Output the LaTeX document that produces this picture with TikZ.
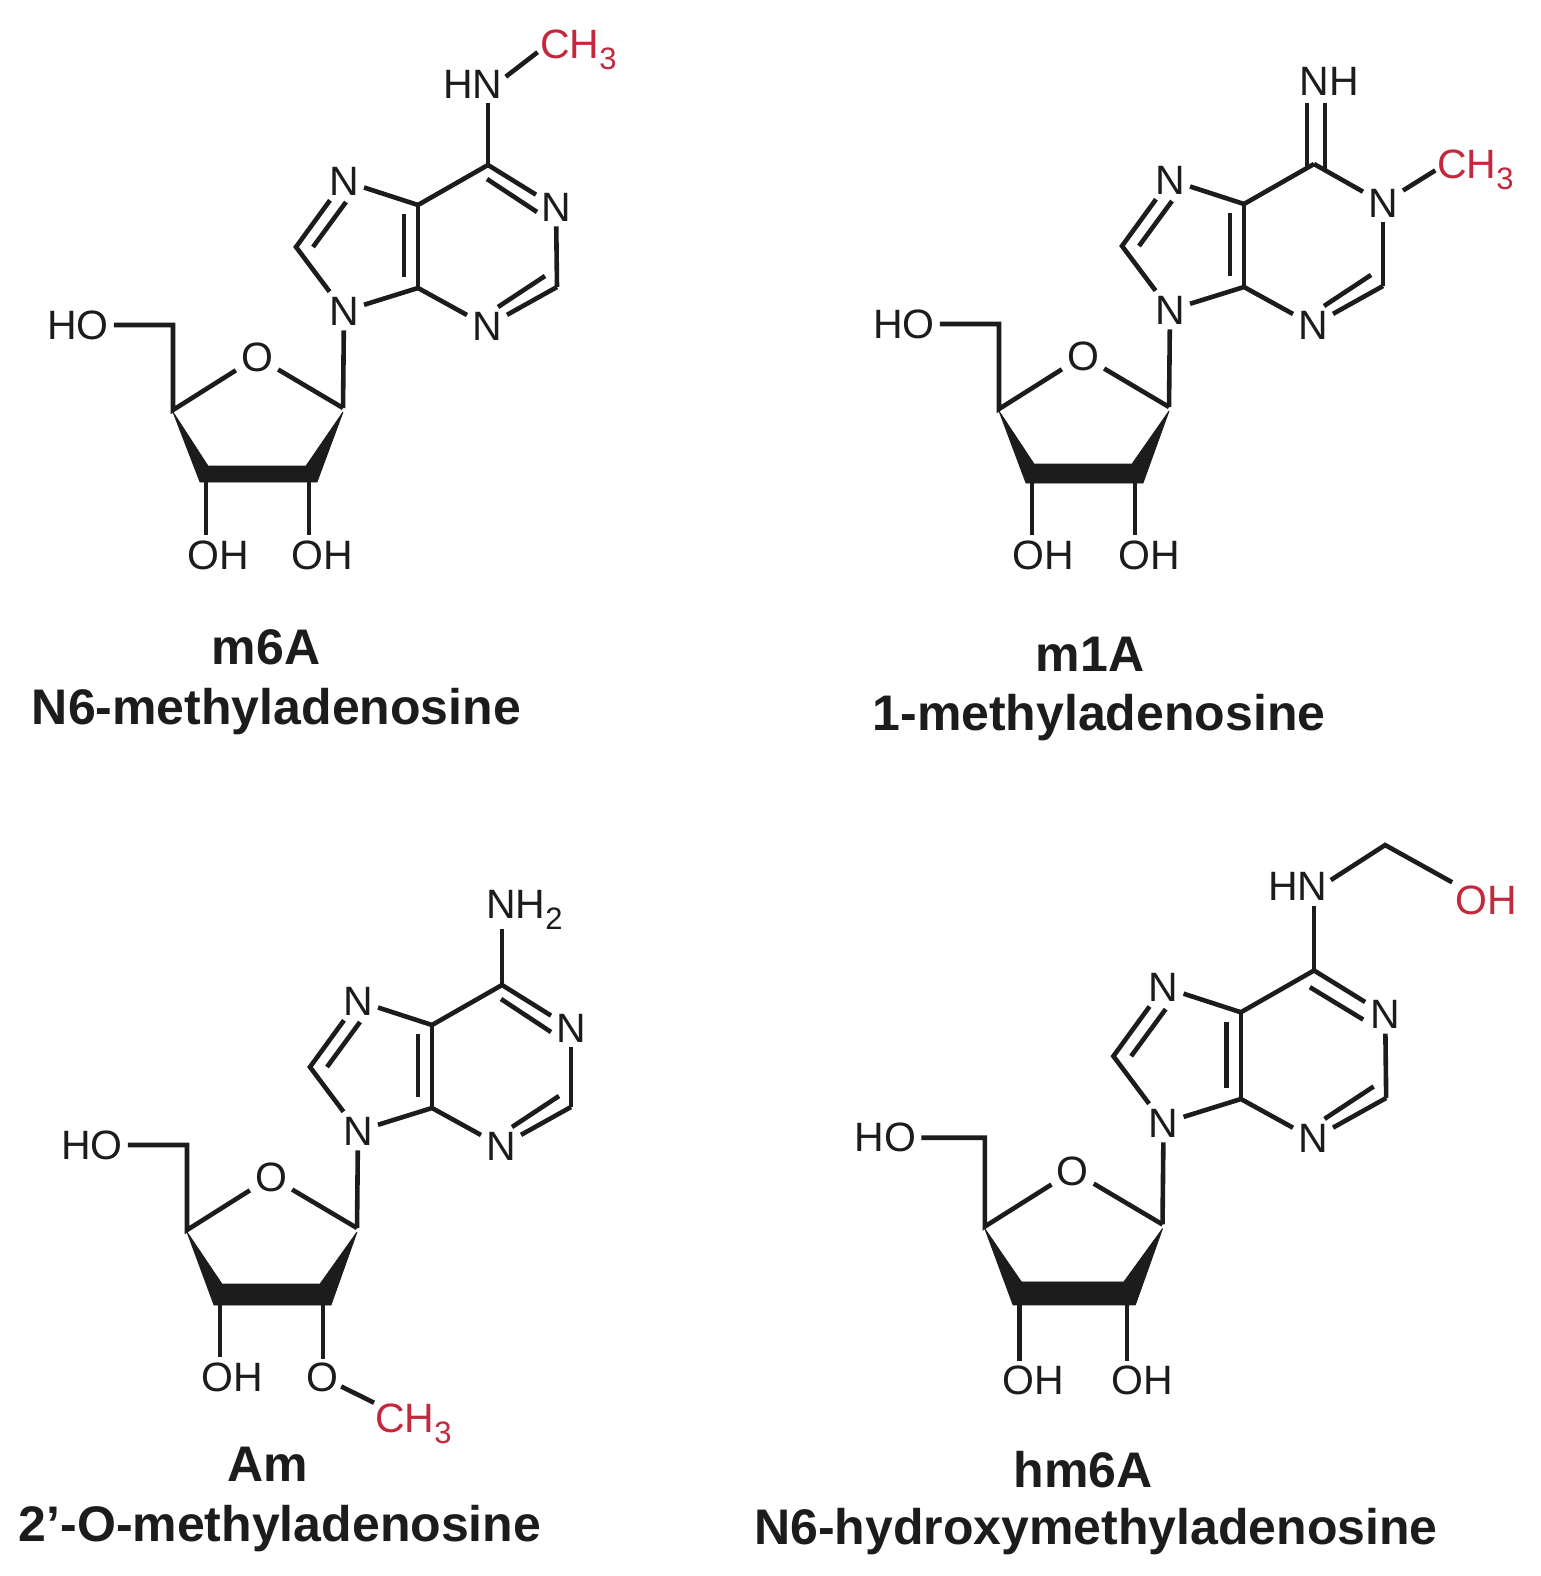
\documentclass[tikz,border=0pt]{standalone}
\usepackage{fontspec}
\setmainfont{Liberation Sans}
\definecolor{ink}{HTML}{1C1C1C}
\definecolor{redgroup}{HTML}{C4283C}
\newcommand{\atomfont}{\fontsize{41}{43}\selectfont}
\newcommand{\subthree}[1]{\raisebox{-11pt}{\fontsize{31}{33}\selectfont #1}}
\tikzset{
  atom/.style={font=\atomfont,text=ink,inner sep=5pt},
  redatom/.style={font=\atomfont,text=redgroup,inner sep=0pt},
  bond/.style={draw=ink,line width=4.6pt,line join=miter},
  wedgeshape/.style={fill=ink,draw=ink,line width=0.8pt,line join=round},
  title/.style={font=\fontsize{50}{52}\selectfont\bfseries,text=ink,anchor=base,inner sep=0pt}
}
% common skeleton, in local coordinates; #1 and #2: top and bottom of the wedge bar
\newcommand{\adenosine}[2]{
  \coordinate (c6) at (488,165);
  \node[atom] (n3) at (487,326) {N};
  \node[atom] (n9) at (344,311) {N};
  \node[atom] (n7) at (344,181) {N};
  \coordinate (c2) at (557,287);
  \coordinate (c4) at (418,288);
  \coordinate (c5) at (418,205);
  \coordinate (c8) at (296,247);
  \coordinate (c1p) at (343,408);
  \coordinate (c4p) at (173,410);
  \coordinate (t1) at (173,412);
  \coordinate (t2) at (343,412);
  \coordinate (c3a) at (200,#2);
  \coordinate (c3b) at (208,#1);
  \coordinate (c2a) at (317,#2);
  \coordinate (c2b) at (306,#1);
  \coordinate (c5p) at (173,325);
  \coordinate (c3p) at (206,#2);
  \coordinate (c2p) at (309,#2);
  \coordinate (i1) at (404,214);
  \coordinate (i2) at (404,277);
  \coordinate (i3) at (313,247);
  \coordinate (i4) at (346,202);
  \coordinate (i5) at (545,276);
  \coordinate (i6) at (498,307);
  \node[atom] (o4) at (257,357) {O};
  \node[atom] (ho) at (78,325) {HO};
  \draw[wedgeshape] (t1) -- (c3a) -- (c2a) -- (t2) -- (c2b) -- (c3b) -- cycle;
  \draw[bond] (n9) -- (c4) -- (n3);
  \draw[bond] (n3) -- (c2);
  \draw[bond] (i5) -- (i6);
  \draw[bond] (c2) -- (n1);
  \draw[bond] (c4) -- (c5);
  \draw[bond] (i1) -- (i2);
  \draw[bond] (c5) -- (n7);
  \draw[bond] (n7) -- (c8) -- (n9);
  \draw[bond] (i3) -- (i4);
  \draw[bond] (c5) -- (c6);
  \draw[bond] (n9) -- (c1p);
  \draw[bond] (c1p) -- (o4) -- (c4p) -- (c5p) -- (ho);
}
\begin{document}
\begin{tikzpicture}[x=1pt,y=-1pt]
\useasboundingbox (0,0) rectangle (1541,1576);
\fill[white] (0,0) rectangle (1541,1576);

% m6A
\begin{scope}[name prefix=a-]
  \node[atom] (n1) at (556,207) {N};
  \adenosine{466}{482}
  \node[atom,anchor=base] (oh3) at (218,569) {OH};
  \node[atom,anchor=base] (oh2) at (322,569) {OH};
  \node[atom] (hn) at (473,84) {HN};
  \node[redatom,anchor=base west] (me) at (540,59) {CH\subthree{3}};
  \coordinate (d1) at (487,179);
  \coordinate (d2) at (537,212);
  \draw[bond] (c6) -- (n1);
  \draw[bond] (d1) -- (d2);
  \draw[bond] (c6) -- (c6 |- hn.south);
  \draw[bond,shorten >=3pt] (hn.north east) ++(-2,12) -- (me.west);
  \draw[bond] (c3p) -- (c3p |- oh3.north);
  \draw[bond] (c2p) -- (c2p |- oh2.north);
\end{scope}
\node[title] (t1) at (266,664) {m6A};
\node[title] (t2) at (276.5,724) {N6-methyladenosine};

% m1A
\begin{scope}[shift={(826,-1)},name prefix=b-]
  \node[atom] (n1) at (557,204) {N};
  \adenosine{465}{484}
  \node[atom,anchor=base] (oh3) at (217,570) {OH};
  \node[atom,anchor=base] (oh2) at (323,570) {OH};
  \node[atom] (nh) at (503,82) {NH};
  \node[redatom,anchor=base west] (me) at (611,179) {CH\subthree{3}};
  \coordinate (d1) at (481,104);
  \coordinate (d2) at (481,169);
  \coordinate (d3) at (499,104);
  \coordinate (d4) at (499,171);
  \draw[bond] (d1) -- (d2);
  \draw[bond] (d3) -- (d4);
  \draw[bond] (c6) -- (n1);
  \draw[bond,shorten >=2pt] (n1) -- (me.west);
  \draw[bond] (c3p) -- (c3p |- oh3.north);
  \draw[bond] (c2p) -- (c2p |- oh2.north);
\end{scope}
\node[title] (t3) at (1090,671) {m1A};
\node[title] (t4) at (1099,730) {1-methyladenosine};

% Am
\begin{scope}[shift={(14,820)},name prefix=c-]
  \node[atom] (n1) at (557,208) {N};
  \adenosine{464}{485}
  \node[atom,anchor=base] (oh3) at (218,571) {OH};
  \node[atom,inner sep=3pt] (o2) at (308,557) {O};
  \node[atom,anchor=base west,inner sep=0pt] (nh2) at (472,98) {NH\subthree{2}};
  \node[redatom,anchor=base west] (me) at (361,612) {CH\subthree{3}};
  \coordinate (d1) at (487,179);
  \coordinate (d2) at (537,212);
  \draw[bond] (c6) -- (n1);
  \draw[bond] (d1) -- (d2);
  \draw[bond] (c6) -- (c6 |- nh2.south);
  \draw[bond,shorten >=1pt] (o2) -- (me.north west);
  \draw[bond] (c3p) -- (c3p |- oh3.north);
  \draw[bond] (c2p) -- (c2p |- o2.north);
\end{scope}
\node[title] (t5) at (268,1481) {Am};
\node[title] (t6) at (280,1541) {2’-O-methyladenosine};

% hm6A
\begin{scope}[shift={(804,798)},scale=1.045,name prefix=d-]
  \node[atom] (n1) at (556,207) {N};
  \adenosine{463}{485}
  \node[atom,anchor=base] (oh3) at (219,571) {OH};
  \node[atom,anchor=base] (oh2) at (324,571) {OH};
  \node[atom] (hn) at (472.7,85) {HN};
  \coordinate (ch2) at (556,45);
  \node[redatom,inner sep=3pt] (oh) at (652.6,97.6) {OH};
  \coordinate (d1) at (484,181);
  \coordinate (d2) at (535,212);
  \draw[bond] (c6) -- (n1);
  \draw[bond] (d1) -- (d2);
  \draw[bond] (c6) -- (c6 |- hn.south);
  \draw[bond] (hn.north east) ++(-2,12) -- (ch2) -- (oh.north west);
  \draw[bond] (c3p) -- (c3p |- oh3.north);
  \draw[bond] (c2p) -- (c2p |- oh2.north);
\end{scope}
\node[title] (t7) at (1083,1487) {hm6A};
\node[title] (t8) at (1096,1544) {N6-hydroxymethyladenosine};
\end{tikzpicture}
\end{document}
